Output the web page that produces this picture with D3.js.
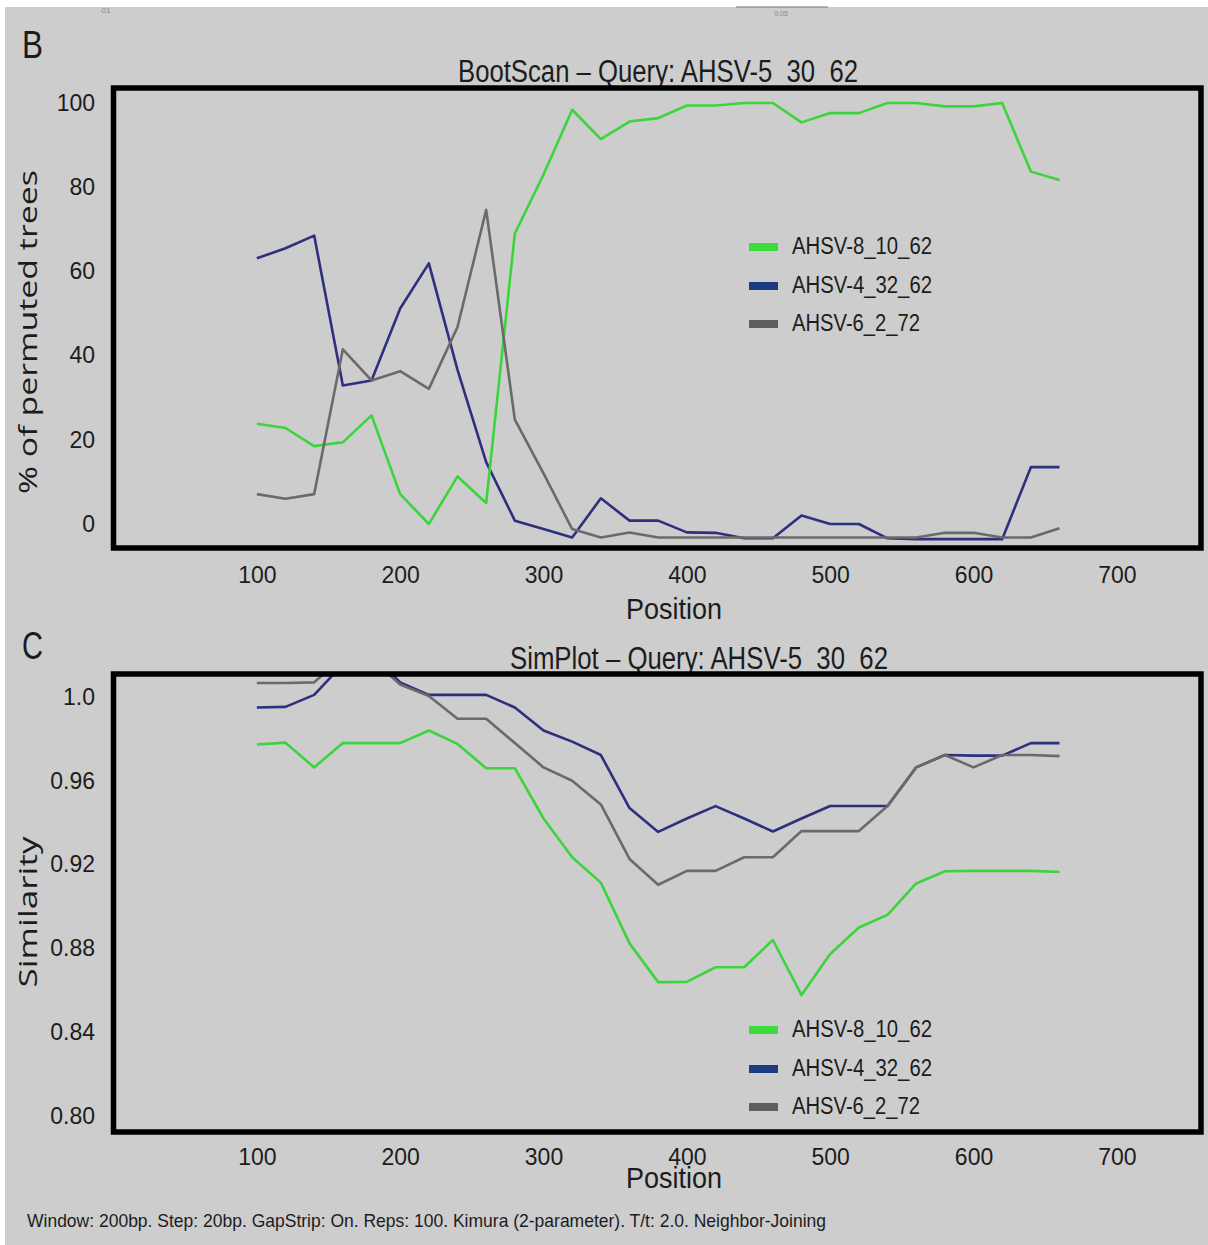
<!DOCTYPE html>
<html>
<head>
<meta charset="utf-8">
<script src="https://cdn.jsdelivr.net/npm/d3@7"></script>
<style>
  body { margin: 0; background: #cdcdcd; }
  svg { display: block; }
</style>
</head>
<body>
<svg id="fig" width="1208" height="1245"></svg>
<script>
// ---- data -------------------------------------------------------------
const positions = [100, 120, 140, 160, 180, 200, 220, 240, 260, 280, 300, 320, 340, 360, 380,
                   400, 420, 440, 460, 480, 500, 520, 540, 560, 580, 600, 620, 640, 660];

const seriesNames = ["AHSV-8_10_62", "AHSV-4_32_62", "AHSV-6_2_72"];

// BootScan: % of permuted trees
const bootAHSV8 = [23.8, 22.8, 18.5, 19.4, 25.8, 7.1, 0, 11.3, 5, 69, 83, 98.4, 91.4, 95.6, 96.4,
                   99.4, 99.4, 100, 100, 95.4, 97.6, 97.6, 100, 100, 99.2, 99.2, 100, 83.7, 81.7];
const bootAHSV4 = [63.1, 65.5, 68.5, 32.9, 34.1, 51.2, 61.9, 36.6, 14.7, 0.8, -1.2, -3.2, 6.1, 0.8, 0.8,
                   -2, -2.1, -3.4, -3.4, 2, 0, 0, -3.4, -3.6, -3.6, -3.6, -3.6, 13.5, 13.5];
const bootAHSV6 = [7.1, 6, 7.1, 41.5, 34.1, 36.3, 32.1, 46.8, 74.6, 24.8, 12, -1.2, -3.2, -2, -3.2,
                   -3.2, -3.2, -3.2, -3.2, -3.2, -3.2, -3.2, -3.2, -3.2, -2.1, -2.1, -3.2, -3.2, -1];

// SimPlot: similarity
const simAHSV8 = [0.9773, 0.9782, 0.9664, 0.978, 0.978, 0.978, 0.984, 0.9776, 0.966, 0.966, 0.942, 0.9235,
                  0.9114, 0.8824, 0.8639, 0.864, 0.871, 0.871, 0.884, 0.8577, 0.8773, 0.890, 0.896,
                  0.911, 0.9168, 0.917, 0.917, 0.917, 0.9165];
const simAHSV4 = [0.995, 0.9953, 1.001, 1.0156, 1.02, 1.007, 1.001, 1.001, 1.001, 0.995, 0.984, 0.9787,
                  0.9723, 0.947, 0.9356, 0.942, 0.9479, 0.942, 0.9358, 0.942, 0.948, 0.948, 0.948,
                  0.9664, 0.9723, 0.972, 0.972, 0.978, 0.978];
const simAHSV6 = [1.0067, 1.0067, 1.007, 1.019, 1.018, 1.006, 1.0005, 0.9896, 0.9896, 0.978, 0.9664, 0.960,
                  0.9487, 0.9227, 0.9104, 0.917, 0.917, 0.9235, 0.9235, 0.936, 0.936, 0.936, 0.948,
                  0.9664, 0.9723, 0.9664, 0.9723, 0.9723, 0.9718];

const xTickValues = [100, 200, 300, 400, 500, 600, 700];
const bootTickValues = [0, 20, 40, 60, 80, 100];
const simTickValues = [0.80, 0.84, 0.88, 0.92, 0.96, 1.0];
const simTickLabels = ["0.80", "0.84", "0.88", "0.92", "0.96", "1.0"];

const footnote = "Window: 200bp. Step: 20bp. GapStrip: On. Reps: 100. Kimura (2-parameter). T/t: 2.0. Neighbor-Joining";

// ---- styling ----------------------------------------------------------
const FONT = "'Liberation Sans', Arial, sans-serif";
const FONT_WIDE = "'Open Sans', 'DejaVu Sans', sans-serif";
const INK = "#1c1c1c";
const lineColor = { "AHSV-8_10_62": "#3cd43c", "AHSV-4_32_62": "#2e2f7e", "AHSV-6_2_72": "#6a6a6a" };
const swatchColor = { "AHSV-8_10_62": "#3ddc3d", "AHSV-4_32_62": "#1d3b80", "AHSV-6_2_72": "#5e5e5e" };
// drawing order: blue under green under grey
const drawOrder = ["AHSV-4_32_62", "AHSV-8_10_62", "AHSV-6_2_72"];

const svg = d3.select("#fig");
const W = 1208, H = 1245;

svg.append("rect").attr("width", W).attr("height", H).attr("fill", "#cdcdcd");
svg.append("rect").attr("width", W).attr("height", 7).attr("fill", "#ffffff");
svg.append("rect").attr("width", 5).attr("height", H).attr("fill", "#ffffff");

// remnants of the panel above, cut off at the top edge
svg.append("text").attr("x", 106).attr("y", 13).attr("font-family", FONT).attr("font-size", 8)
  .attr("fill", "#8a8a8a").attr("text-anchor", "middle").text("01");
svg.append("line").attr("x1", 736).attr("x2", 828).attr("y1", 7).attr("y2", 7)
  .attr("stroke", "#777").attr("stroke-width", 1);
svg.append("text").attr("x", 781).attr("y", 16).attr("font-family", FONT).attr("font-size", 7)
  .attr("fill", "#8a8a8a").attr("text-anchor", "middle").text("0.05");

const x = d3.scaleLinear().domain([0, 758]).range([113.5, 1200]);
const boxLeft = 113.5, boxRight = 1201;

function drawPanel(p) {
  const g = svg.append("g");
  const y = d3.scaleLinear().domain(p.yDomain).range(p.yRange);

  // panel letter
  g.append("text").attr("x", 22).attr("y", p.letterBase)
    .attr("font-family", FONT).attr("font-size", 38).attr("fill", INK)
    .attr("textLength", 21).attr("lengthAdjust", "spacingAndGlyphs").text(p.letter);

  // title
  g.append("text").attr("x", p.titleX).attr("y", p.titleBase).attr("text-anchor", "middle")
    .attr("font-family", FONT).attr("font-size", 31).attr("fill", INK)
    .attr("textLength", p.titleLen).attr("lengthAdjust", "spacingAndGlyphs").text(p.title);

  // clip for the series
  const clipId = "clip-" + p.letter;
  g.append("clipPath").attr("id", clipId).append("rect")
    .attr("x", boxLeft).attr("y", p.top).attr("width", boxRight - boxLeft).attr("height", p.bottom - p.top);

  const line = d3.line().x((d, i) => x(positions[i])).y(d => y(d));
  const lines = g.append("g").attr("clip-path", `url(#${clipId})`);
  drawOrder.forEach(name => {
    lines.append("path").datum(p.series[name])
      .attr("d", line).attr("fill", "none")
      .attr("stroke", lineColor[name]).attr("stroke-width", 2.6)
      .attr("stroke-linejoin", "round");
  });

  // frame
  g.append("rect").attr("x", boxLeft).attr("y", p.top)
    .attr("width", boxRight - boxLeft).attr("height", p.bottom - p.top)
    .attr("fill", "none").attr("stroke", "#000").attr("stroke-width", 5.5);

  // x axis
  const xa = g.append("g").attr("transform", `translate(0,${p.bottom})`)
    .call(d3.axisBottom(x).tickValues(xTickValues).tickSize(0).tickPadding(p.xPad).tickFormat(d3.format("d")));
  xa.select(".domain").remove();
  xa.attr("font-family", FONT).attr("font-size", 23).attr("color", INK);

  // y axis
  const ya = g.append("g").attr("transform", `translate(${boxLeft},0)`)
    .call(d3.axisLeft(y).tickValues(p.yTicks).tickSize(0).tickPadding(18.5)
      .tickFormat((d, i) => p.yTickLabels[i]));
  ya.select(".domain").remove();
  ya.attr("font-family", FONT).attr("font-size", 23).attr("color", INK);

  // axis titles
  g.append("text").attr("x", 674).attr("y", p.xTitleBase).attr("text-anchor", "middle")
    .attr("font-family", FONT).attr("font-size", 29).attr("fill", INK)
    .attr("textLength", 96).attr("lengthAdjust", "spacingAndGlyphs").text("Position");

  g.append("text")
    .attr("transform", `translate(${p.yTitleX},${p.yTitleMid}) rotate(-90)`)
    .attr("text-anchor", "middle").attr("dy", "0.35em")
    .attr("font-family", FONT_WIDE).attr("font-size", 25).attr("fill", INK)
    .attr("textLength", p.yTitleLen).attr("lengthAdjust", "spacingAndGlyphs").text(p.yTitle);

  // legend
  const lg = g.append("g");
  seriesNames.forEach((name, i) => {
    const cy = p.legendY[i];
    lg.append("rect").attr("x", 749).attr("y", cy - 4).attr("width", 29).attr("height", 8)
      .attr("fill", swatchColor[name]);
    lg.append("text").attr("x", 792).attr("y", cy + 7)
      .attr("font-family", FONT).attr("font-size", 23).attr("fill", INK)
      .attr("textLength", name === "AHSV-6_2_72" ? 128 : 140).attr("lengthAdjust", "spacingAndGlyphs")
      .text(name);
  });
}

drawPanel({
  letter: "B", letterBase: 58,
  title: "BootScan \u2013 Query: AHSV-5_30_62", titleX: 658, titleBase: 82, titleLen: 400,
  top: 88, bottom: 548,
  yDomain: [0, 100], yRange: [524, 103],
  yTicks: bootTickValues, yTickLabels: bootTickValues.map(String),
  series: { "AHSV-8_10_62": bootAHSV8, "AHSV-4_32_62": bootAHSV4, "AHSV-6_2_72": bootAHSV6 },
  xPad: 19, xTitleBase: 619,
  yTitle: "% of permuted trees", yTitleX: 28, yTitleMid: 332, yTitleLen: 324,
  legendY: [247, 286, 324]
});

drawPanel({
  letter: "C", letterBase: 659,
  title: "SimPlot \u2013 Query: AHSV-5_30_62", titleX: 699, titleBase: 669, titleLen: 378,
  top: 674, bottom: 1132,
  yDomain: [0.8, 1.0], yRange: [1116, 697],
  yTicks: simTickValues, yTickLabels: simTickLabels,
  series: { "AHSV-8_10_62": simAHSV8, "AHSV-4_32_62": simAHSV4, "AHSV-6_2_72": simAHSV6 },
  xPad: 17, xTitleBase: 1188,
  yTitle: "Similarity", yTitleX: 28, yTitleMid: 912, yTitleLen: 151,
  legendY: [1030, 1069, 1107]
});

// footnote
svg.append("text").attr("x", 27).attr("y", 1227)
  .attr("font-family", FONT).attr("font-size", 19).attr("fill", INK)
  .attr("textLength", 799).attr("lengthAdjust", "spacingAndGlyphs").text(footnote);
</script>
</body>
</html>
